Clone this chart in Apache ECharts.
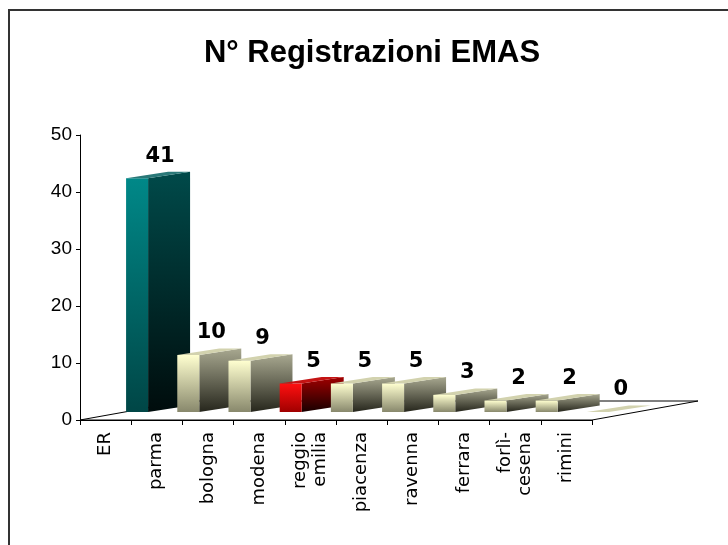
<!DOCTYPE html>
<html>
<head>
<meta charset="utf-8">
<script src="https://cdn.jsdelivr.net/npm/echarts@6/dist/echarts.min.js"></script>
<style>
  html, body { margin: 0; padding: 0; background: #fff; }
  #chart { width: 728px; height: 545px; }
</style>
</head>
<body>
<div id="chart"></div>
<script>
// EMAS registrations by province (Emilia-Romagna)
const provinces = ['ER', 'parma', 'bologna', 'modena', 'reggio\nemilia', 'piacenza', 'ravenna', 'ferrara', 'forlì-\ncesena', 'rimini'];
const registrations = [41, 10, 9, 5, 5, 5, 3, 2, 2, 0];
const valueTicks = [0, 10, 20, 30, 40, 50];
const chartTitle = 'N° Registrazioni EMAS';

// colour schemes for the pseudo-3D columns
const schemes = {
  teal:  { front: ['#008888', '#004646'], side: ['#004a4a', '#000c0c'], top: '#2a7878' },
  red:   { front: ['#ff1010', '#a00000'], side: ['#a00000', '#180000'], top: '#c41414' },
  beige: { front: ['#ffffd0', '#88886c'], side: ['#a8a890', '#26261c'], top: '#d2d2ae' }
};
const schemeOf = { 'ER': 'teal', 'modena': 'red' };

// projection used for the 3D look
const DEPTH_X = 42, DEPTH_Y = -6.5;   // receding side of a column
const FLOOR_X = 106, FLOOR_Y = -19;   // receding edge of the floor
const LIFT = -8;                      // columns stand part-way back on the floor
const FRONT_W = 22;                   // width of a column's front face

const vGrad = (c) => new echarts.graphic.LinearGradient(0, 0, 0, 1, [
  { offset: 0, color: c[0] }, { offset: 1, color: c[1] }
]);

const chart = echarts.init(document.getElementById('chart'), null, { renderer: 'canvas' });

function renderFloor(params, api) {
  const band = api.size([1, 0])[0];
  const p0 = api.coord([0, 0]);
  const pN = api.coord([provinces.length - 1, 0]);
  const l = p0[0] - band / 2, r = pN[0] + band / 2, y = p0[1];
  return {
    type: 'polygon',
    shape: { points: [[l, y], [r, y], [r + FLOOR_X, y + FLOOR_Y], [l + FLOOR_X, y + FLOOR_Y]] },
    style: { fill: '#fff', stroke: '#000', lineWidth: 1 }
  };
}

function renderColumn(params, api) {
  const idx = api.value(0);
  const val = api.value(1);
  const band = api.size([1, 0])[0];
  const base = api.coord([idx, 0]);
  const head = api.coord([idx, val]);
  const s = schemes[schemeOf[provinces[idx]] || 'beige'];
  const fx = base[0] + band * 0.4;
  const bottom = base[1] + LIFT;
  const top = head[1] + LIFT;
  const children = [];
  if (val > 0) {
    children.push({
      type: 'polygon',
      shape: { points: [[fx + FRONT_W, top], [fx + FRONT_W + DEPTH_X, top + DEPTH_Y],
                        [fx + FRONT_W + DEPTH_X, bottom + DEPTH_Y], [fx + FRONT_W, bottom]] },
      style: { fill: vGrad(s.side) }
    });
    children.push({
      type: 'rect',
      shape: { x: fx, y: top, width: FRONT_W, height: bottom - top },
      style: { fill: vGrad(s.front) }
    });
  }
  children.push({
    type: 'polygon',
    shape: { points: [[fx, top], [fx + FRONT_W, top], [fx + FRONT_W + DEPTH_X, top + DEPTH_Y], [fx + DEPTH_X, top + DEPTH_Y]] },
    style: { fill: s.top }
  });
  children.push({
    type: 'text',
    z2: 100,
    style: {
      text: String(val), x: fx + 34, y: top - 22,
      align: 'center', verticalAlign: 'middle',
      font: 'bold 21px "DejaVu Sans"', fill: '#000'
    }
  });
  return { type: 'group', children };
}

chart.setOption({
  animation: false,
  backgroundColor: '#fff',
  graphic: [
    {
      type: 'rect', silent: true,
      shape: { x: 9, y: 10, width: 760, height: 580 },
      style: { fill: null, stroke: '#333', lineWidth: 2 }
    },
    {
      type: 'text', x: 372, y: 53,
      style: {
        text: chartTitle, align: 'center', verticalAlign: 'middle',
        font: 'bold 31px "Liberation Sans"', fill: '#000'
      }
    }
  ],
  grid: { left: 80, top: 135, width: 512, height: 285, containLabel: false, outerBoundsMode: 'none' },
  xAxis: {
    type: 'category',
    data: provinces,
    boundaryGap: true,
    axisLine: { show: true, lineStyle: { color: '#000', width: 1 } },
    axisTick: { show: true, length: 5, lineStyle: { color: '#000' } },
    axisLabel: {
      interval: 0, rotate: 90, margin: 12, hideOverlap: false,
      fontFamily: 'DejaVu Sans', fontSize: 18, lineHeight: 20, color: '#000'
    },
    splitLine: { show: false }
  },
  yAxis: {
    type: 'value',
    min: valueTicks[0], max: valueTicks[valueTicks.length - 1], interval: valueTicks[1] - valueTicks[0],
    axisLine: { show: true, lineStyle: { color: '#000', width: 1 } },
    axisTick: { show: true, length: 4, lineStyle: { color: '#000' } },
    axisLabel: { margin: 8, fontFamily: 'Liberation Sans', fontSize: 19, color: '#000' },
    splitLine: { show: false }
  },
  series: [
    {
      type: 'custom', z: 1, silent: true,
      renderItem: renderFloor,
      data: [[0]]
    },
    {
      type: 'custom', z: 2, silent: true,
      renderItem: renderColumn,
      encode: { x: 0, y: 1 },
      data: registrations.map((v, i) => [i, v])
    }
  ]
});
</script>
</body>
</html>
